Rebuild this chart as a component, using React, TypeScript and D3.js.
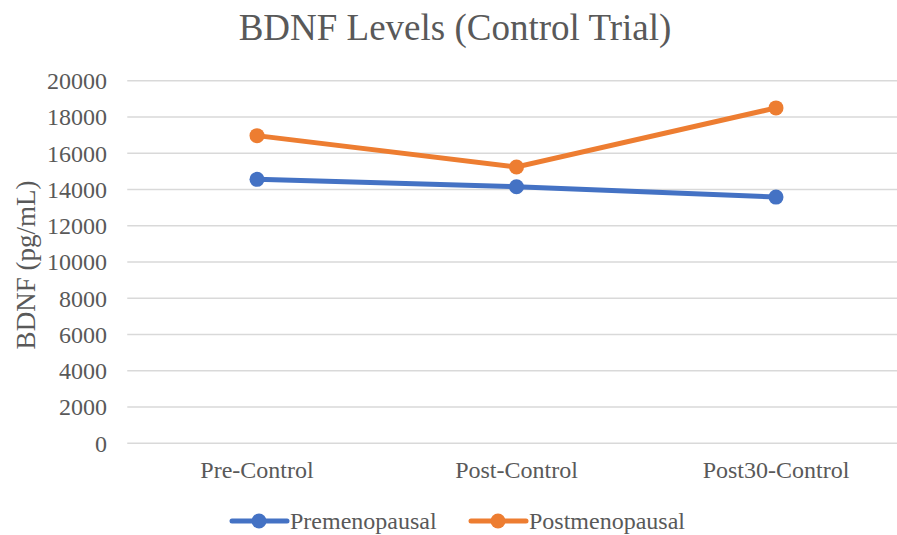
import React from "react";
import * as d3 from "d3";

const categories = ["Pre-Control", "Post-Control", "Post30-Control"];
const premenopausal = [14560, 14150, 13580];
const postmenopausal = [16970, 15240, 18500];
const yTicks = [0, 2000, 4000, 6000, 8000, 10000, 12000, 14000, 16000, 18000, 20000];
const seriesNames = ["Premenopausal", "Postmenopausal"];
const seriesColors = ["#4472C4", "#ED7D31"];

export default function App() {
  const W = 897, H = 535;
  const left = 127.25, right = 905.75, top = 80.7, bottom = 443.3;
  const x = d3.scaleBand<string>().domain(categories).range([left, right]);
  const y = d3.scaleLinear().domain([0, 20000]).range([bottom, top]);
  const line = d3.line<number>()
    .x((_, i) => (x(categories[i]) as number) + x.bandwidth() / 2)
    .y((d) => y(d));
  const series = [premenopausal, postmenopausal];
  const font = "'Liberation Serif', 'Times New Roman', serif";
  const text = "#595959";
  return (
    <svg width={W} height={H} style={{ position: "fixed", left: 0, top: 0 }} fontFamily={font}>
      <rect width={W} height={H} fill="#fff" />
      <text x={455} y={40} textAnchor="middle" fontSize={37} fill={text}>BDNF Levels (Control Trial)</text>
      {yTicks.map((t) => (
        <g key={t}>
          <line x1={left} x2={right} y1={y(t)} y2={y(t)} stroke="#d9d9d9" strokeWidth={1.5} />
          <text x={107} y={y(t)} dy="0.35em" textAnchor="end" fontSize={24} fill={text}>{t}</text>
        </g>
      ))}
      {categories.map((c) => (
        <text key={c} x={(x(c) as number) + x.bandwidth() / 2} y={478} textAnchor="middle" fontSize={24} fill={text}>{c}</text>
      ))}
      <text transform={`translate(35,265) rotate(-90)`} textAnchor="middle" fontSize={27} fill={text}>BDNF (pg/mL)</text>
      {series.map((s, si) => (
        <g key={si}>
          <path d={line(s) as string} fill="none" stroke={seriesColors[si]} strokeWidth={5} strokeLinecap="round" />
          {s.map((v, i) => (
            <circle key={i} cx={(x(categories[i]) as number) + x.bandwidth() / 2} cy={y(v)} r={7.5} fill={seriesColors[si]} />
          ))}
        </g>
      ))}
      {seriesNames.map((n, i) => {
        const lx = i === 0 ? 232 : 471;
        return (
          <g key={n}>
            <line x1={lx} x2={lx + 55} y1={521} y2={521} stroke={seriesColors[i]} strokeWidth={5} strokeLinecap="round" />
            <circle cx={lx + 27} cy={521} r={7.5} fill={seriesColors[i]} />
            <text x={lx + 58} y={521} dy="0.35em" fontSize={24} fill={text}>{n}</text>
          </g>
        );
      })}
    </svg>
  );
}
